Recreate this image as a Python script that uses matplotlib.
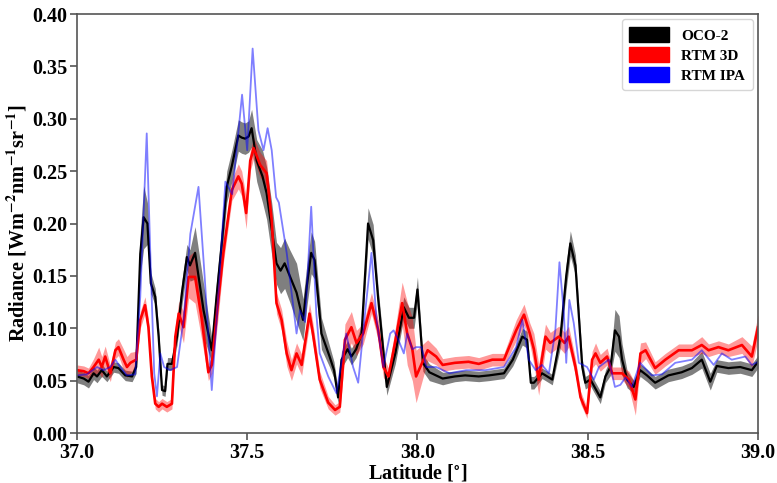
import matplotlib
matplotlib.use("Agg")
import matplotlib.pyplot as plt
from matplotlib.patches import Patch
import numpy as np

# ---- OCO-2 (observation) ----
oco_lat = [37.000, 37.020, 37.034, 37.049, 37.059, 37.073, 37.088, 37.108, 37.122, 37.142,
           37.162, 37.174, 37.186, 37.196, 37.207, 37.217, 37.230, 37.240, 37.250, 37.259,
           37.266, 37.279, 37.294, 37.308, 37.323, 37.332, 37.347, 37.372, 37.396, 37.410,
           37.425, 37.440, 37.455, 37.474, 37.484, 37.494, 37.504, 37.513, 37.528, 37.545,
           37.557, 37.572, 37.586, 37.598, 37.610, 37.625, 37.645, 37.664, 37.675, 37.688,
           37.698, 37.718, 37.742, 37.755, 37.767, 37.777, 37.795, 37.806, 37.820, 37.836,
           37.846, 37.855, 37.870, 37.885, 37.910, 37.935, 37.960, 37.975, 37.990, 38.000,
           38.016, 38.035, 38.074, 38.110, 38.140, 38.180, 38.210, 38.254, 38.280, 38.308,
           38.322, 38.333, 38.342, 38.366, 38.396, 38.420, 38.437, 38.449, 38.464, 38.484,
           38.493, 38.508, 38.537, 38.552, 38.567, 38.580, 38.592, 38.601, 38.616, 38.635,
           38.654, 38.674, 38.698, 38.737, 38.776, 38.806, 38.835, 38.860, 38.879, 38.913,
           38.948, 38.982, 39.000]
oco_val = [0.054, 0.052, 0.049, 0.057, 0.054, 0.060, 0.054, 0.063, 0.062, 0.055,
           0.054, 0.063, 0.171, 0.206, 0.200, 0.143, 0.130, 0.092, 0.041, 0.040,
           0.066, 0.066, 0.092, 0.133, 0.168, 0.160, 0.172, 0.117, 0.079, 0.130,
           0.180, 0.235, 0.255, 0.284, 0.282, 0.281, 0.283, 0.291, 0.260, 0.245,
           0.229, 0.195, 0.162, 0.155, 0.162, 0.150, 0.134, 0.108, 0.140, 0.172,
           0.165, 0.095, 0.073, 0.060, 0.034, 0.070, 0.080, 0.073, 0.080, 0.095,
           0.150, 0.200, 0.184, 0.127, 0.044, 0.076, 0.120, 0.110, 0.110, 0.137,
           0.067, 0.058, 0.052, 0.054, 0.055, 0.054, 0.055, 0.057, 0.070, 0.092,
           0.089, 0.048, 0.048, 0.057, 0.051, 0.092, 0.150, 0.181, 0.160, 0.063,
           0.048, 0.051, 0.034, 0.054, 0.063, 0.098, 0.092, 0.070, 0.051, 0.044,
           0.060, 0.055, 0.048, 0.055, 0.058, 0.062, 0.070, 0.049, 0.064, 0.062,
           0.063, 0.060, 0.068]
oco_err = [0.006, 0.006, 0.006, 0.006, 0.006, 0.006, 0.005, 0.005, 0.005, 0.005,
           0.005, 0.006, 0.020, 0.030, 0.020, 0.010, 0.008, 0.008, 0.005, 0.005,
           0.006, 0.006, 0.008, 0.012, 0.012, 0.015, 0.025, 0.025, 0.012, 0.015,
           0.015, 0.015, 0.015, 0.015, 0.015, 0.015, 0.015, 0.018, 0.020, 0.025,
           0.025, 0.025, 0.020, 0.022, 0.024, 0.025, 0.028, 0.020, 0.020, 0.020,
           0.018, 0.015, 0.010, 0.008, 0.006, 0.008, 0.008, 0.008, 0.008, 0.008,
           0.012, 0.015, 0.015, 0.010, 0.008, 0.010, 0.010, 0.010, 0.010, 0.012,
           0.008, 0.008, 0.006, 0.005, 0.005, 0.005, 0.005, 0.005, 0.006, 0.008,
           0.008, 0.006, 0.006, 0.005, 0.005, 0.010, 0.012, 0.012, 0.010, 0.008,
           0.006, 0.006, 0.006, 0.006, 0.008, 0.020, 0.020, 0.015, 0.008, 0.006,
           0.006, 0.006, 0.006, 0.006, 0.006, 0.006, 0.008, 0.008, 0.006, 0.006,
           0.006, 0.006, 0.006]

# ---- RTM 3D ----
r3d_lat = [37.000, 37.020, 37.034, 37.049, 37.064, 37.073, 37.083, 37.098, 37.113, 37.122,
           37.137, 37.147, 37.157, 37.174, 37.186, 37.200, 37.210, 37.220, 37.230, 37.240,
           37.250, 37.264, 37.279, 37.289, 37.299, 37.313, 37.328, 37.347, 37.366, 37.386,
           37.396, 37.413, 37.430, 37.455, 37.474, 37.484, 37.497, 37.509, 37.519, 37.538,
           37.557, 37.572, 37.586, 37.601, 37.616, 37.630, 37.645, 37.660, 37.683, 37.693,
           37.713, 37.738, 37.758, 37.772, 37.787, 37.806, 37.821, 37.841, 37.865, 37.885,
           37.900, 37.915, 37.934, 37.955, 37.970, 37.985, 37.996, 38.030, 38.055, 38.074,
           38.110, 38.150, 38.180, 38.220, 38.254, 38.290, 38.313, 38.330, 38.342, 38.356,
           38.376, 38.390, 38.415, 38.432, 38.444, 38.464, 38.479, 38.498, 38.513, 38.523,
           38.537, 38.557, 38.572, 38.601, 38.621, 38.640, 38.655, 38.670, 38.698, 38.728,
           38.767, 38.806, 38.835, 38.855, 38.884, 38.913, 38.953, 38.982, 39.000]
r3d_val = [0.060, 0.059, 0.057, 0.063, 0.070, 0.063, 0.073, 0.057, 0.079, 0.082,
           0.070, 0.063, 0.067, 0.070, 0.108, 0.122, 0.101, 0.054, 0.028, 0.025,
           0.028, 0.025, 0.028, 0.092, 0.114, 0.101, 0.149, 0.149, 0.110, 0.058,
           0.065, 0.120, 0.172, 0.232, 0.245, 0.238, 0.210, 0.260, 0.272, 0.256,
           0.248, 0.203, 0.124, 0.108, 0.076, 0.060, 0.076, 0.065, 0.114, 0.095,
           0.051, 0.029, 0.022, 0.025, 0.089, 0.101, 0.086, 0.095, 0.124, 0.098,
           0.063, 0.054, 0.086, 0.124, 0.095, 0.080, 0.054, 0.079, 0.073, 0.065,
           0.067, 0.068, 0.066, 0.070, 0.070, 0.098, 0.113, 0.095, 0.080, 0.051,
           0.092, 0.086, 0.092, 0.086, 0.092, 0.063, 0.034, 0.019, 0.070, 0.076,
           0.067, 0.073, 0.057, 0.057, 0.051, 0.032, 0.076, 0.079, 0.062, 0.070,
           0.079, 0.079, 0.084, 0.079, 0.082, 0.079, 0.084, 0.073, 0.101]
r3d_err = [0.005, 0.005, 0.005, 0.008, 0.012, 0.010, 0.010, 0.008, 0.008, 0.008,
           0.010, 0.010, 0.010, 0.008, 0.008, 0.008, 0.008, 0.006, 0.005, 0.005,
           0.005, 0.005, 0.005, 0.010, 0.012, 0.015, 0.020, 0.025, 0.020, 0.008,
           0.008, 0.015, 0.010, 0.010, 0.012, 0.012, 0.015, 0.010, 0.010, 0.012,
           0.012, 0.010, 0.010, 0.010, 0.012, 0.010, 0.010, 0.010, 0.010, 0.010,
           0.008, 0.006, 0.005, 0.005, 0.015, 0.015, 0.012, 0.010, 0.010, 0.010,
           0.010, 0.008, 0.012, 0.020, 0.030, 0.030, 0.025, 0.010, 0.008, 0.006,
           0.006, 0.006, 0.006, 0.006, 0.006, 0.010, 0.010, 0.010, 0.015, 0.015,
           0.012, 0.010, 0.010, 0.010, 0.010, 0.008, 0.006, 0.005, 0.008, 0.010,
           0.008, 0.008, 0.006, 0.006, 0.008, 0.015, 0.010, 0.008, 0.006, 0.006,
           0.006, 0.006, 0.008, 0.006, 0.006, 0.006, 0.008, 0.010, 0.012]

# ---- RTM IPA ----
ipa_lat = [37.000, 37.029, 37.059, 37.078, 37.098, 37.113, 37.127, 37.147, 37.171, 37.186,
           37.205, 37.217, 37.227, 37.235, 37.245, 37.256, 37.274, 37.294, 37.313, 37.333,
           37.357, 37.375, 37.396, 37.415, 37.436, 37.456, 37.485, 37.500, 37.516, 37.533,
           37.548, 37.560, 37.572, 37.585, 37.593, 37.616, 37.630, 37.645, 37.655, 37.670,
           37.688, 37.703, 37.713, 37.738, 37.762, 37.791, 37.811, 37.826, 37.846, 37.865,
           37.880, 37.900, 37.920, 37.930, 37.944, 37.960, 37.970, 37.985, 37.996, 38.012,
           38.026, 38.055, 38.094, 38.143, 38.200, 38.254, 38.290, 38.308, 38.327, 38.347,
           38.366, 38.386, 38.405, 38.417, 38.430, 38.437, 38.446, 38.459, 38.474, 38.498,
           38.518, 38.533, 38.562, 38.580, 38.596, 38.611, 38.630, 38.654, 38.688, 38.718,
           38.757, 38.806, 38.835, 38.870, 38.894, 38.923, 38.963, 38.982, 39.000]
ipa_val = [0.055, 0.056, 0.063, 0.060, 0.063, 0.070, 0.063, 0.055, 0.056, 0.130,
           0.286, 0.155, 0.057, 0.035, 0.076, 0.063, 0.060, 0.063, 0.108, 0.190,
           0.235, 0.150, 0.041, 0.130, 0.240, 0.228, 0.323, 0.270, 0.367, 0.289,
           0.270, 0.291, 0.270, 0.225, 0.220, 0.172, 0.135, 0.095, 0.117, 0.106,
           0.216, 0.114, 0.076, 0.054, 0.038, 0.095, 0.063, 0.048, 0.114, 0.172,
           0.108, 0.063, 0.095, 0.098, 0.089, 0.076, 0.095, 0.080, 0.082, 0.082,
           0.063, 0.063, 0.057, 0.060, 0.060, 0.063, 0.082, 0.108, 0.070, 0.060,
           0.065, 0.057, 0.098, 0.163, 0.114, 0.067, 0.127, 0.105, 0.067, 0.063,
           0.051, 0.063, 0.070, 0.044, 0.046, 0.053, 0.044, 0.067, 0.055, 0.056,
           0.067, 0.070, 0.079, 0.065, 0.076, 0.070, 0.073, 0.065, 0.068]

legend_labels = ["OCO-2", "RTM 3D", "RTM IPA"]
x_ticks = [37.0, 37.5, 38.0, 38.5, 39.0]
y_ticks = [0.00, 0.05, 0.10, 0.15, 0.20, 0.25, 0.30, 0.35, 0.40]

plt.rcParams['font.family'] = ['Liberation Serif', 'DejaVu Serif']
plt.rcParams['font.weight'] = 'bold'
plt.rcParams['mathtext.fontset'] = 'stix'
plt.rcParams['mathtext.default'] = 'bf'

fig = plt.figure(figsize=(7.77, 4.83), dpi=100)
ax = fig.add_axes([0.099, 0.1035, 0.8765, 0.8675])

oco_lat_a, oco_val_a, oco_err_a = map(np.array, (oco_lat, oco_val, oco_err))
r3d_lat_a, r3d_val_a, r3d_err_a = map(np.array, (r3d_lat, r3d_val, r3d_err))
ipa_lat_a, ipa_val_a = map(np.array, (ipa_lat, ipa_val))

ax.fill_between(oco_lat_a, oco_val_a - oco_err_a, oco_val_a + oco_err_a,
                color='black', alpha=0.5, lw=0)
ax.plot(oco_lat_a, oco_val_a, color='black', lw=1.6)

ax.fill_between(r3d_lat_a, r3d_val_a - r3d_err_a, r3d_val_a + r3d_err_a,
                color='red', alpha=0.4, lw=0)
ax.plot(r3d_lat_a, r3d_val_a, color='red', lw=1.9)

ax.plot(ipa_lat_a, ipa_val_a, color='blue', lw=1.3, alpha=0.5)

ax.set_xlim(37.0, 39.0)
ax.set_ylim(0.0, 0.40)
ax.set_xticks(x_ticks)
ax.set_xticklabels([f"{t:.1f}" for t in x_ticks])
ax.set_yticks(y_ticks)
ax.set_yticklabels([f"{t:.2f}" for t in y_ticks])
ax.tick_params(labelsize=14.5, length=5, width=1.2, color='#555555', pad=2)
for lab in ax.get_xticklabels() + ax.get_yticklabels():
    lab.set_fontweight('bold')
for sp in ax.spines.values():
    sp.set_color('#555555')
    sp.set_linewidth(1.2)

ax.set_xlabel(r"Latitude [$^{\circ}$]", fontsize=14.5, fontweight='bold', labelpad=0)
ax.set_ylabel(r"Radiance [Wm$^{-2}$nm$^{-1}$sr$^{-1}$]", fontsize=14.5,
              fontweight='bold', labelpad=2)

handles = [Patch(color='black'), Patch(color='red'), Patch(color='blue')]
leg = ax.legend(handles, legend_labels, loc='upper right',
                prop={'weight': 'bold', 'size': 11}, frameon=True,
                handlelength=2.6, handleheight=1.1, borderpad=0.5, labelspacing=0.3,
                borderaxespad=0.35, handletextpad=0.8)
leg.get_frame().set_edgecolor('#cccccc')

fig.savefig("out.png", dpi=100)
